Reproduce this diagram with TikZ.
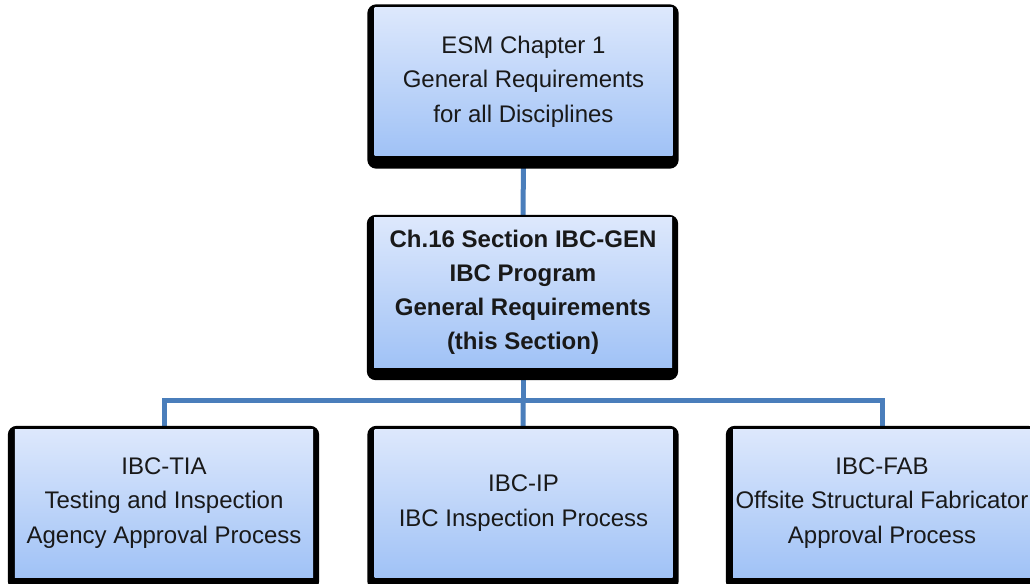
\documentclass[tikz,border=0pt]{standalone}
\usepackage{fontspec}
\setmainfont{Liberation Sans}
\pgfdeclarelayer{conn}
\pgfdeclarelayer{frame}
\pgfsetlayers{conn,frame,main}
\definecolor{boxtop}{RGB}{221,232,252}
\definecolor{boxbot}{RGB}{160,194,246}
\definecolor{linkc}{RGB}{74,126,187}
\tikzset{
  box/.style={top color=boxtop, bottom color=boxbot, minimum width=298bp, minimum height=148bp,
    inner sep=0pt, align=center, font=\fontsize{24bp}{34.5bp}\selectfont, text=black!90},
  boxframe/.style={fill=black, rounded corners=9bp},
  linkline/.style={draw=linkc, line width=5bp}
}
\begin{document}
\begin{tikzpicture}[x=1bp,y=-1bp]
\useasboundingbox (0,0) rectangle (1030,584);
\node[box] (esm) at (523.5,81.5) {ESM Chapter 1\\General Requirements\\for all Disciplines};
\node[box, minimum height=149bp, font=\fontsize{24bp}{34bp}\selectfont\bfseries] (gen) at (523,292.5) {Ch.16 Section IBC-GEN\\IBC Program\\General Requirements\\(this Section)};
\node[box] (tia) at (164,503) {IBC-TIA\\Testing and Inspection\\Agency Approval Process};
\node[box] (ip) at (523.5,503) {IBC-IP\\IBC Inspection Process};
\node[box] (fab) at (882,503) {IBC-FAB\\Offsite Structural Fabricator\\Approval Process};
\coordinate (bus) at (gen |- 0,400);
\begin{pgfonlayer}{frame}
  \foreach \n in {esm,gen,tia,ip,fab}
    \fill[boxframe] ([shift={(-7,-3)}]\n.north west) rectangle ([shift={(6,13)}]\n.south east);
\end{pgfonlayer}
\begin{pgfonlayer}{conn}
  \draw[linkline] (esm) -- (gen);
  \draw[linkline] (gen) -- (bus) -| (tia);
  \draw[linkline] (bus) -| (fab);
  \draw[linkline] (bus) -- (ip);
\end{pgfonlayer}
\end{tikzpicture}
\end{document}
